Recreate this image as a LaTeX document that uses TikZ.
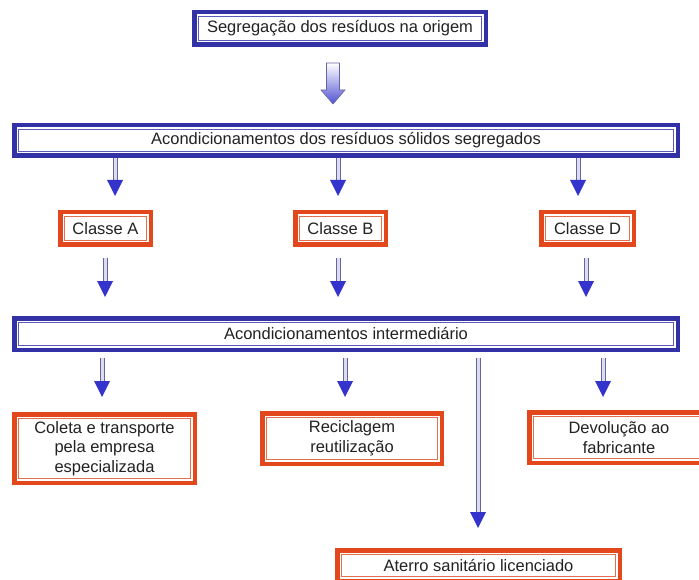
\documentclass[tikz,border=0pt]{standalone}
\usepackage{fontspec}
\setmainfont{Liberation Sans}
\usetikzlibrary{calc}
\definecolor{bOut}{HTML}{3232A6}
\definecolor{bIn}{HTML}{5A5AB8}
\definecolor{rOut}{HTML}{E2481C}
\definecolor{rIn}{HTML}{E2704E}
\definecolor{shaftc}{HTML}{6464A0}
\definecolor{shaftin}{HTML}{DCDCEE}
\definecolor{headc}{HTML}{3434CC}
\definecolor{txt}{HTML}{222222}
\tikzset{
  box/.style={line width=4.5pt, inner sep=0pt, outer sep=0pt, align=center, text=txt,
    font=\fontsize{16.5}{19.5}\selectfont},
  bluebox/.style={box, draw=bOut},
  redbox/.style={box, draw=rOut},
  shaftline/.style={draw=shaftc, double=shaftin, double distance=3pt, line width=1pt},
  headfill/.style={fill=headc},
}
\newcommand{\innerframe}[2]{\draw[#2, line width=1.2pt] ([shift={(4.6pt,-4.6pt)}]#1.north west) rectangle ([shift={(-4.6pt,4.6pt)}]#1.south east);}
\newcommand{\varrow}[2]{%
  \draw[shaftline] (#1) -- ($(#2)+(0,-16)$);
  \fill[headfill] (#2) -- ++(-8,-16) -- ++(16,0) -- cycle;}
\begin{document}
\begin{tikzpicture}[x=1pt, y=-1pt]
\useasboundingbox (0,0) rectangle (699,580);
\fill[white] (0,0) rectangle (699,580);

% boxes
\node[bluebox, minimum width=291.5pt, minimum height=32.5pt] (top) at (340,28.5) {Segregação dos resíduos na origem};
\node[bluebox, minimum width=663.5pt, minimum height=30.5pt] (acond) at (346,140.5) {Acondicionamentos dos resíduos sólidos segregados};
\node[redbox, minimum width=90.5pt, minimum height=32.5pt] (clA) at (105.5,228.5) {Classe A};
\node[redbox, minimum width=90.5pt, minimum height=32.5pt] (clB) at (340.5,228.5) {Classe B};
\node[redbox, minimum width=92.5pt, minimum height=32.5pt] (clD) at (587.5,228.5) {Classe D};
\node[bluebox, minimum width=663.5pt, minimum height=31.5pt] (inter) at (346,334) {Acondicionamentos intermediário};
\node[redbox, minimum width=180.5pt, minimum height=68.5pt] (coleta) at (104.5,448.5) {Coleta e transporte\\pela empresa\\especializada};
\node[redbox, minimum width=179.5pt, minimum height=50.5pt] (recic) at (352,438.5) {Reciclagem\\reutilização};
\node[redbox, minimum width=179.5pt, minimum height=50.5pt] (devol) at (619,437.5) {Devolução ao\\fabricante};
\node[redbox, minimum width=282.5pt, minimum height=30.5pt] (aterro) at (478.5,565.5) {Aterro sanitário licenciado};

\innerframe{top}{bIn}
\innerframe{acond}{bIn}
\innerframe{inter}{bIn}
\foreach \n in {clA,clB,clD,coleta,recic,devol,aterro} {\innerframe{\n}{rIn}}

% big hollow arrow
\shade[top color=white, bottom color=headc!85, draw=shaftc, line width=0.6pt]
  (326.5,63) -- (339.5,63) -- (339.5,90) -- (345,90) -- (333,104) -- (321,90) -- (326.5,90) -- cycle;

% arrow x positions
\coordinate (a1) at (115,0);
\coordinate (a2) at (338,0);
\coordinate (a3) at (578,0);
\coordinate (b1) at (105,0);
\coordinate (b2) at (338,0);
\coordinate (b3) at (586,0);
\coordinate (c1) at (102,0);
\coordinate (c2) at (345,0);
\coordinate (c3) at (478,0);
\coordinate (c4) at (603,0);

\varrow{$(acond.south -| a1)+(0,2.25)$}{$(clA.north -| a1)+(0,-16.25)$}
\varrow{$(acond.south -| a2)+(0,2.25)$}{$(clB.north -| a2)+(0,-16.25)$}
\varrow{$(acond.south -| a3)+(0,2.25)$}{$(clD.north -| a3)+(0,-16.25)$}

\varrow{$(clA.south -| b1)+(0,13)$}{$(inter.north -| b1)+(0,-21.25)$}
\varrow{$(clB.south -| b2)+(0,13)$}{$(inter.north -| b2)+(0,-21.25)$}
\varrow{$(clD.south -| b3)+(0,13)$}{$(inter.north -| b3)+(0,-21.25)$}

\varrow{$(inter.south -| c1)+(0,8.25)$}{$(coleta.north -| c1)+(0,-17.25)$}
\varrow{$(inter.south -| c2)+(0,8.25)$}{$(recic.north -| c2)+(0,-16.25)$}
\varrow{$(inter.south -| c3)+(0,8.25)$}{$(aterro.north -| c3)+(0,-22.25)$}
\varrow{$(inter.south -| c4)+(0,8.25)$}{$(devol.north -| c4)+(0,-15.25)$}
\end{tikzpicture}
\end{document}
